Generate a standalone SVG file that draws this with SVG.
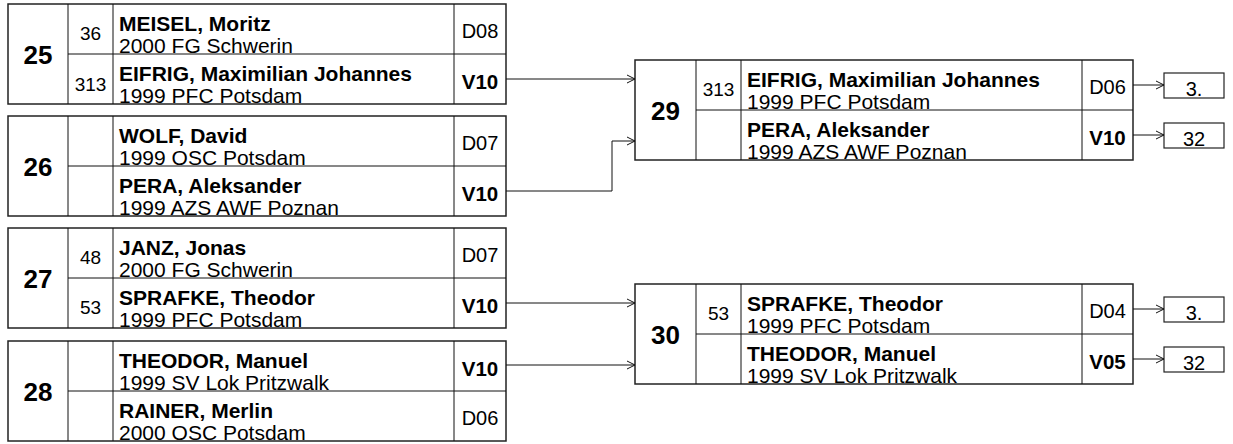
<svg xmlns="http://www.w3.org/2000/svg" width="1233" height="444" viewBox="0 0 1233 444">
<defs>
<style>
.frame{fill:#fff;stroke:#222;stroke-width:1.5}
.ln{stroke:#111;stroke-width:1;fill:none}
.num{font-family:"Liberation Sans",Arial,sans-serif;font-weight:bold;font-size:26px;text-anchor:middle;fill:#000}
.seed{font-family:"Liberation Sans",Arial,sans-serif;font-size:19px;text-anchor:middle;fill:#000}
.name{font-family:"Liberation Sans",Arial,sans-serif;font-weight:bold;font-size:21px;fill:#000}
.club{font-family:"Liberation Sans",Arial,sans-serif;font-size:21px;fill:#000}
.res{font-family:"Liberation Sans",Arial,sans-serif;font-size:20px;text-anchor:middle;fill:#000}
.resb{font-family:"Liberation Sans",Arial,sans-serif;font-weight:bold;font-size:20.5px;text-anchor:middle;fill:#000}
.place{font-family:"Liberation Sans",Arial,sans-serif;font-size:20px;text-anchor:middle;fill:#000}
.conn{stroke:#111;stroke-width:1;fill:none;marker-end:url(#arr)}
</style>
<marker id="arr" markerWidth="10" markerHeight="10" refX="9" refY="5" orient="auto" markerUnits="userSpaceOnUse">
<path d="M1,1 L9,5 L1,9" fill="none" stroke="#111" stroke-width="1"/>
</marker>
</defs>

<g id="bout-25">
<rect class="frame" x="8" y="4" width="498" height="100"/>
<path class="ln" d="M68,4 V104 M113,4 V104 M454,4 V104 M68,54 H506"/>
<text class="num" x="38" y="64">25</text>
<text class="seed" x="90.5" y="40">36</text>
<text class="name" x="119" y="31">MEISEL, Moritz</text>
<text class="club" x="119" y="53">2000 FG Schwerin</text>
<text class="res" x="480" y="38">D08</text>
<text class="seed" x="90.5" y="91">313</text>
<text class="name" x="119" y="81">EIFRIG, Maximilian Johannes</text>
<text class="club" x="119" y="103">1999 PFC Potsdam</text>
<text class="resb" x="480" y="89">V10</text>
</g>

<g id="bout-26">
<rect class="frame" x="8" y="116" width="498" height="100"/>
<path class="ln" d="M68,116 V216 M113,116 V216 M454,116 V216 M68,166 H506"/>
<text class="num" x="38" y="176">26</text>
<text class="name" x="119" y="143">WOLF, David</text>
<text class="club" x="119" y="165">1999 OSC Potsdam</text>
<text class="res" x="480" y="150">D07</text>
<text class="name" x="119" y="193">PERA, Aleksander</text>
<text class="club" x="119" y="215">1999 AZS AWF Poznan</text>
<text class="resb" x="480" y="201">V10</text>
</g>

<g id="bout-27">
<rect class="frame" x="8" y="228" width="498" height="100"/>
<path class="ln" d="M68,228 V328 M113,228 V328 M454,228 V328 M68,278 H506"/>
<text class="num" x="38" y="288">27</text>
<text class="seed" x="90.5" y="264">48</text>
<text class="name" x="119" y="255">JANZ, Jonas</text>
<text class="club" x="119" y="277">2000 FG Schwerin</text>
<text class="res" x="480" y="262">D07</text>
<text class="seed" x="90.5" y="314">53</text>
<text class="name" x="119" y="305">SPRAFKE, Theodor</text>
<text class="club" x="119" y="327">1999 PFC Potsdam</text>
<text class="resb" x="480" y="313">V10</text>
</g>

<g id="bout-28">
<rect class="frame" x="8" y="341" width="498" height="100"/>
<path class="ln" d="M68,341 V441 M113,341 V441 M454,341 V441 M68,391 H506"/>
<text class="num" x="38" y="401">28</text>
<text class="name" x="119" y="368">THEODOR, Manuel</text>
<text class="club" x="119" y="390">1999 SV Lok Pritzwalk</text>
<text class="resb" x="480" y="376">V10</text>
<text class="name" x="119" y="418">RAINER, Merlin</text>
<text class="club" x="119" y="440">2000 OSC Potsdam</text>
<text class="res" x="480" y="425">D06</text>
</g>

<g id="bout-29">
<rect class="frame" x="635" y="60" width="498" height="100"/>
<path class="ln" d="M696,60 V160 M741,60 V160 M1082,60 V160 M696,110 H1133"/>
<text class="num" x="665.5" y="120">29</text>
<text class="seed" x="718.5" y="96">313</text>
<text class="name" x="747" y="87">EIFRIG, Maximilian Johannes</text>
<text class="club" x="747" y="109">1999 PFC Potsdam</text>
<text class="res" x="1107.5" y="94">D06</text>
<text class="name" x="747" y="137">PERA, Aleksander</text>
<text class="club" x="747" y="159">1999 AZS AWF Poznan</text>
<text class="resb" x="1107.5" y="145">V10</text>
</g>

<g id="bout-30">
<rect class="frame" x="635" y="284" width="498" height="100"/>
<path class="ln" d="M696,284 V384 M741,284 V384 M1082,284 V384 M696,334 H1133"/>
<text class="num" x="665.5" y="344">30</text>
<text class="seed" x="718.5" y="320">53</text>
<text class="name" x="747" y="311">SPRAFKE, Theodor</text>
<text class="club" x="747" y="333">1999 PFC Potsdam</text>
<text class="res" x="1107.5" y="318">D04</text>
<text class="name" x="747" y="361">THEODOR, Manuel</text>
<text class="club" x="747" y="383">1999 SV Lok Pritzwalk</text>
<text class="resb" x="1107.5" y="369">V05</text>
</g>

<g id="place-29-1">
<rect x="1164" y="73" width="60" height="25" fill="#fff" stroke="#222" stroke-width="1.2"/>
<text class="place" x="1194" y="96">3.</text>
</g>
<g id="place-29-2">
<rect x="1164" y="123" width="60" height="25" fill="#fff" stroke="#222" stroke-width="1.2"/>
<text class="place" x="1194" y="146">32</text>
</g>
<g id="place-30-1">
<rect x="1164" y="297" width="60" height="25" fill="#fff" stroke="#222" stroke-width="1.2"/>
<text class="place" x="1194" y="320">3.</text>
</g>
<g id="place-30-2">
<rect x="1164" y="347" width="60" height="25" fill="#fff" stroke="#222" stroke-width="1.2"/>
<text class="place" x="1194" y="370">32</text>
</g>

<g id="connectors">
<path class="conn" d="M506,79 H635"/>
<path class="conn" d="M506,191 H612 V141 H635"/>
<path class="conn" d="M506,303 H635"/>
<path class="conn" d="M506,365 H635"/>
<path class="conn" d="M1133,85 H1164"/>
<path class="conn" d="M1133,135 H1164"/>
<path class="conn" d="M1133,309 H1164"/>
<path class="conn" d="M1133,359 H1164"/>
</g>
</svg>
